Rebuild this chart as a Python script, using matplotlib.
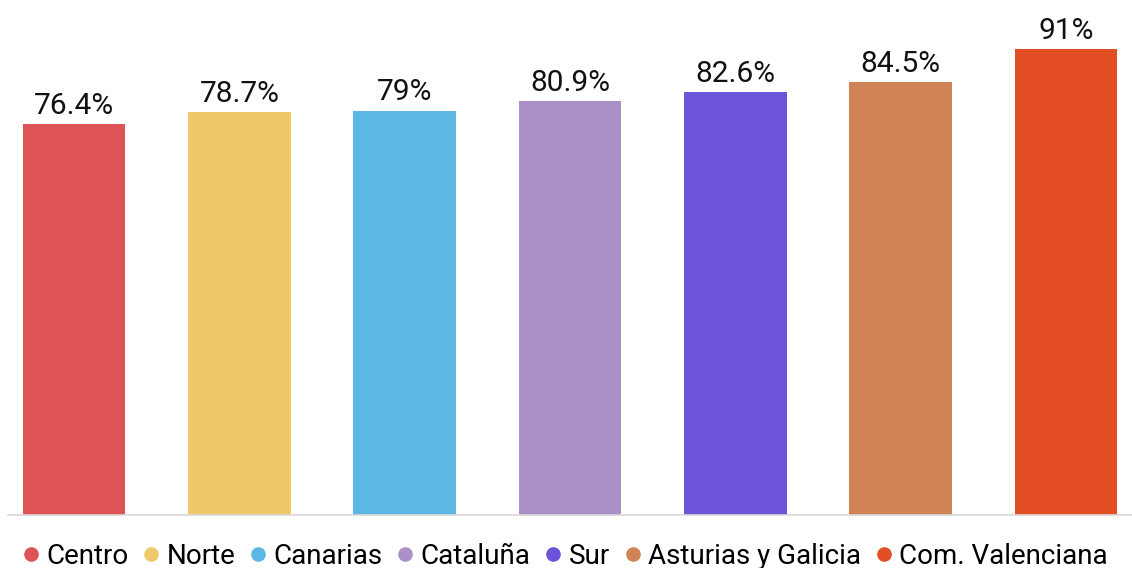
import matplotlib.pyplot as plt
from matplotlib.lines import Line2D

# Data
regions = ['Centro', 'Norte', 'Canarias', 'Cataluña', 'Sur',
           'Asturias y Galicia', 'Com. Valenciana']
values = [76.4, 78.7, 79, 80.9, 82.6, 84.5, 91]
labels = ['76.4%', '78.7%', '79%', '80.9%', '82.6%', '84.5%', '91%']
colors = ['#DE5456', '#EDC96B', '#5DB7E5', '#AB90C8', '#6C53DA',
          '#CF8356', '#E44E25']

plt.rcParams['font.family'] = ['Roboto', 'DejaVu Sans']

fig = plt.figure(figsize=(11.32, 5.68), dpi=100)
ax = fig.add_axes([8/1132, 1 - 515/568, 1 - 8/1132, 515/568])

x = range(len(values))
bars = ax.bar(x, values, width=0.62, color=colors, zorder=2)
for b, lab in zip(bars, labels):
    ax.text(b.get_x() + b.get_width()/2, b.get_height() + 0.8, lab,
            ha='center', va='bottom', fontsize=21.5, color='#111111')

ax.set_xlim(-0.4, 6.4)
ax.set_ylim(0, 100.6)
ax.set_xticks([])
ax.set_yticks([])
for s in ['top', 'right', 'left']:
    ax.spines[s].set_visible(False)
ax.spines['bottom'].set_color('#d9d9d9')
ax.spines['bottom'].set_linewidth(1.2)

# Legend
handles = [Line2D([], [], marker='o', linestyle='', markersize=9.5,
                  markerfacecolor=c, markeredgecolor=c) for c in colors]
fig.legend(handles, regions, loc='center', bbox_to_anchor=(0.498, 1 - 556/568),
           ncol=7, frameon=False, fontsize=20, handletextpad=0.15,
           columnspacing=0.42, handlelength=0.8, borderpad=0)

fig.savefig('out.png', dpi=100)
